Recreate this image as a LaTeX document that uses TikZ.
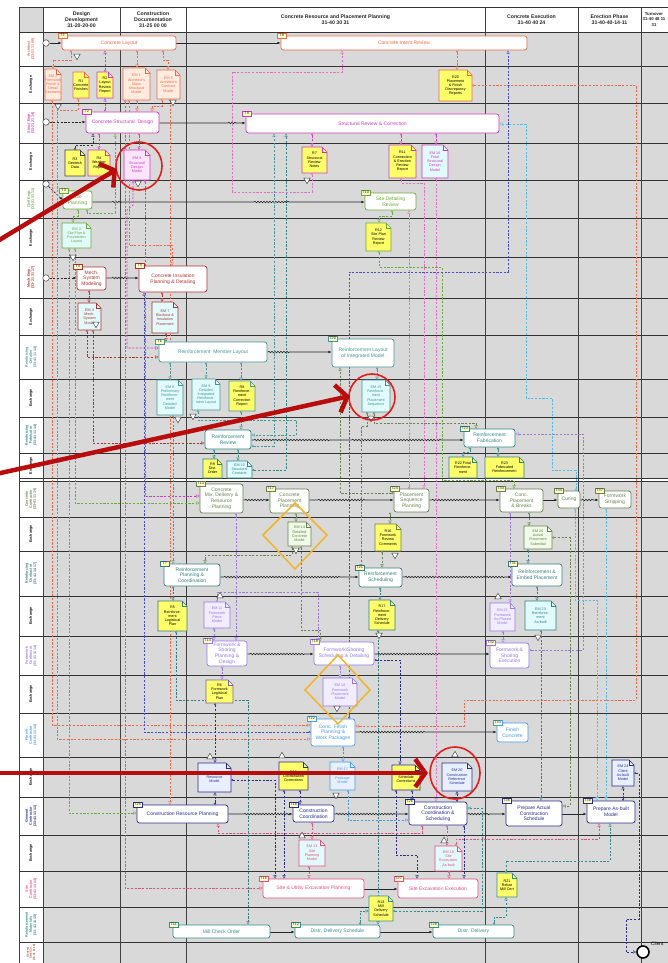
\documentclass[tikz,border=0pt]{standalone}
\usepackage{fontspec}
\setmainfont{Liberation Sans}
\usetikzlibrary{arrows.meta,calc,shapes.geometric,decorations.pathmorphing}
\pgfdeclarelayer{back}
\pgfdeclarelayer{mid}
\pgfsetlayers{back,mid,main}
\definecolor{arch}{RGB}{238,105,75}
\definecolor{archlt}{RGB}{255,236,222}
\definecolor{struct}{RGB}{205,60,190}
\definecolor{structpk}{RGB}{228,110,195}
\definecolor{structlt}{RGB}{252,228,250}
\definecolor{civil}{RGB}{105,170,60}
\definecolor{mech}{RGB}{175,50,50}
\definecolor{det}{RGB}{70,150,150}
\definecolor{fab}{RGB}{45,135,135}
\definecolor{conc}{RGB}{105,130,80}
\definecolor{rc}{RGB}{55,125,125}
\definecolor{form}{RGB}{150,120,230}
\definecolor{formlt}{RGB}{242,236,255}
\definecolor{finish}{RGB}{70,155,230}
\definecolor{blu}{RGB}{75,75,205}
\definecolor{gc}{RGB}{40,45,140}
\definecolor{gclt}{RGB}{232,240,255}
\definecolor{site}{RGB}{228,80,125}
\definecolor{mat}{RGB}{55,140,140}
\definecolor{cyanlt}{RGB}{225,250,252}
\definecolor{greenlt}{RGB}{240,250,232}
\definecolor{docyel}{RGB}{255,255,105}
\definecolor{tagyel}{RGB}{255,255,195}
\definecolor{bodygray}{RGB}{217,217,217}
\definecolor{annred}{RGB}{185,12,12}
\definecolor{circred}{RGB}{228,28,28}
\definecolor{diamyel}{RGB}{242,180,40}
\definecolor{cyanln}{RGB}{80,190,230}
\tikzset{
  taskbox/.style={draw=#1, text=#1, fill=white, rounded corners=2.5pt, line width=0.7pt, align=center, inner sep=0.5pt, font=\fontsize{5}{5.7}\selectfont},
  tagbox/.style={draw=#1, fill=tagyel, text=black!85, line width=0.4pt, inner sep=0.6pt, minimum width=9pt, minimum height=5.5pt, font=\fontsize{3.8}{4}\selectfont},
  doctext/.style={align=center, inner sep=0pt, font=\fontsize{3.7}{4.2}\selectfont},
  docbase/.style={line width=0.55pt},
  archEM/.style={docbase, draw=arch, fill=archlt}, archR/.style={docbase, draw=arch, fill=docyel},
  structR/.style={docbase, draw=struct, fill=docyel}, structEM/.style={docbase, draw=struct, fill=structlt},
  structEMc/.style={docbase, draw=struct, fill=cyanlt},
  blackR/.style={docbase, draw=black!75, fill=docyel},
  civilEM/.style={docbase, draw=civil, fill=cyanlt}, civilR/.style={docbase, draw=civil, fill=docyel},
  mechEM/.style={docbase, draw=mech, fill=cyanlt},
  detEM/.style={docbase, draw=det, fill=cyanlt}, detR/.style={docbase, draw=det, fill=docyel},
  fabEM/.style={docbase, draw=fab, fill=cyanlt}, fabR/.style={docbase, draw=fab, fill=docyel},
  concEM/.style={docbase, draw=conc, fill=greenlt}, concR/.style={docbase, draw=conc, fill=docyel},
  rcEM/.style={docbase, draw=rc, fill=cyanlt}, rcR/.style={docbase, draw=rc, fill=docyel},
  formEM/.style={docbase, draw=form, fill=formlt}, formR/.style={docbase, draw=form!80!black, fill=docyel},
  gcEM/.style={docbase, draw=gc, fill=gclt}, gcR/.style={docbase, draw=gc, fill=docyel},
  finishEM/.style={docbase, draw=finish, fill=gclt},
  siteEM/.style={docbase, draw=site, fill=cyanlt},
  matR/.style={docbase, draw=mat, fill=docyel},
  con/.style={draw=#1, line width=0.55pt, dash pattern=on 2.2pt off 1.5pt, {Circle[length=2.2pt,fill=white,line width=0.45pt]}-{Triangle[length=3.2pt,width=3.2pt,fill=white,line width=0.45pt]}},
  flow/.style={draw=black!85, line width=0.6pt, -{Latex[length=3.2pt,width=2.6pt]}},
  flowd/.style={flow, dash pattern=on 2.2pt off 1.5pt},
  wv/.style={decoration={snake,amplitude=0.8pt,segment length=3pt}},
  startc/.style={circle, draw=black!75, fill=white, line width=0.5pt, minimum size=6.5pt, inner sep=0pt},
  gatedn/.style={regular polygon, regular polygon sides=3, shape border rotate=180, draw=black!75, fill=white, line width=0.45pt, minimum size=7.5pt, inner sep=0pt},
  gateup/.style={regular polygon, regular polygon sides=3, draw=black!75, fill=white, line width=0.45pt, minimum size=7.5pt, inner sep=0pt},
  lanelbl/.style={rotate=90, align=center, inner sep=0pt, font=\fontsize{3.6}{4.1}\selectfont\bfseries},
  hdr/.style={align=center, inner sep=0pt, text=black!85, font=\fontsize{5.2}{6.3}\selectfont\bfseries},
  gridln/.style={draw=black!80, line width=0.7pt},
  colln/.style={draw=black!75, line width=0.9pt},
  redarrow/.style={draw=annred, line width=4.5pt, -{Straight Barb[length=10pt,width=28pt]}},
  redcirc/.style={draw=circred, line width=1.6pt},
  diam/.style={draw=diamyel, line width=1.5pt},
}
\newcommand{\tsk}[8]{%
  \node[taskbox=#6, minimum width={#4-#2}, minimum height={#5-#3}] (#1) at ({(#2+#4)/2},{(#3+#5)/2}) {#7};
  \node[tagbox=#6] (#1tag) at ($(#1.north west)+(1,0)$) {#8};
}
\newcommand{\docn}[8]{%
  \filldraw[#6] (#2,#3) -- ({#4-5},#3) -- (#4,{#3+5}) -- (#4,#5) -- (#2,#5) -- cycle;
  \draw[#6,fill=none] ({#4-5},#3) -- ({#4-5},{#3+5}) -- (#4,{#3+5});
  \node[doctext, text=#7, minimum width={#4-#2}, minimum height={#5-#3}] (#1) at ({(#2+#4)/2},{(#3+#5)/2}) {#8};
}
\begin{document}
\begin{tikzpicture}[x=1pt,y=-1pt]
\useasboundingbox (0,0) rectangle (667,963);
% ---------------- background grid
\begin{pgfonlayer}{back}
\fill[white] (0,0) rectangle (667,963);
\fill[bodygray] (43,32) rectangle (680,963);
\fill[bodygray] (19,7) rectangle (43,32);
\fill[white] (43,7) rectangle (680,32);
\fill[white] (19,32) rectangle (43,963);
\fill[white] (19,478) rectangle (680,481);
\foreach \yy in {7,32,66,103,143,180,218,257,298,335,379,417,453,478,481,517,551,596,636,675,713,757,797,835,871,907,942}
  \draw[gridln] (19,\yy) -- (680,\yy);
\foreach \xx in {19,43,120,186,485,578,641}
  \draw[colln] (\xx,7) -- (\xx,963);
\end{pgfonlayer}
% ---------------- header
\node[hdr] (h1) at (81.5,19.5) {Design\\Development\\31-20-20-00};
\node[hdr] (h2) at (153,19.5) {Construction\\Documentation\\31-25 00 00};
\node[hdr] (h3) at (335.5,19.5) {Concrete Resource and Placement Planning\\31-40 30 31};
\node[hdr] (h4) at (531.5,19.5) {Concrete Execution\\31-40 40 24};
\node[hdr] (h5) at (609.5,19.5) {Erection Phase\\31-40-40-14-11};
\node[hdr, font=\fontsize{4.3}{5.6}\selectfont\bfseries] (h6) at (654,19.5) {Turnover\\31-40 48 11\\31};
% ---------------- lane labels
\node[lanelbl, text=arch] (l1) at (31,49) {Architect\\(33-21 11 00)};
\node[lanelbl] (l2) at (31,84.5) {Exchange};
\node[lanelbl, text=struct] (l3) at (31,123) {Struct Engr.\\(33-21 31 14)};
\node[lanelbl] (l4) at (31,161.5) {Exchange};
\node[lanelbl, text=civil] (l5) at (31,199) {Civil Engr.\\(33-21 31 11)};
\node[lanelbl] (l6) at (31,237.5) {Exchange};
\node[lanelbl, text=mech] (l7) at (31,277.5) {Mech Engr.\\(33-21 31 17)};
\node[lanelbl] (l8) at (31,316.5) {Exchange};
\node[lanelbl, text=det] (l9) at (31,357) {Reinforcing\\Detailer\\(33-41 11 14)};
\node[lanelbl] (l10) at (31,398) {Exchange};
\node[lanelbl, text=fab] (l11) at (31,435) {Reinforcing\\Fabricator\\(33-41 11 14)};
\node[lanelbl] (l12) at (31,465.5) {Exchange};
\node[lanelbl, text=conc] (l13) at (31,499) {Concrete\\Contractor\\(33-41 11 14)};
\node[lanelbl] (l14) at (31,534) {Exchange};
\node[lanelbl, text=rc] (l15) at (31,573.5) {Reinforcing\\Contractor\\(33-41 14 17)};
\node[lanelbl] (l16) at (31,616) {Exchange};
\node[lanelbl, text=form] (l17) at (31,655.5) {Formwork\\Contractor\\(33-41 11 14)};
\node[lanelbl] (l18) at (31,694) {Exchange};
\node[lanelbl, text=finish] (l19) at (31,735) {Finish\\Contractor\\(33-41 11 14)};
\node[lanelbl] (l20) at (31,777) {Exchange};
\node[lanelbl, text=gc] (l21) at (31,816) {General\\Contractor\\(33-41 11 11)};
\node[lanelbl] (l22) at (31,853) {Exchange};
\node[lanelbl, text=site] (l23) at (31,889) {Site\\Contractor\\(33-41 11 14)};
\node[lanelbl, text=mat] (l24) at (31,924.5) {Reinforcement\\Materials\\(33-41 11 15)};
\node[lanelbl, text=mech, font=\fontsize{2.7}{3.1}\selectfont\bfseries] (l25) at (31,952.5) {General\\Steel Co.\\(33-41 11 16)};
% ---------------- start / end events
\node[startc] (s1) at (46,43) {};
\node[startc] (s2) at (46,122) {};
\node[startc] (s3) at (46,184) {};
\node[startc] (s4) at (46,278) {};
\node[circle, draw=black, fill=white, line width=1.6pt, minimum size=12pt, inner sep=0pt] (client) at (643,952) {};
\node[anchor=west, inner sep=0pt, font=\fontsize{4.8}{6}\selectfont] (clientlbl) at (651,944) {Client};
% ---------------- tasks
\tsk{t1}{62}{36}{176}{50}{arch}{Concrete Layout}{T1}
\tsk{t8}{281}{36}{527}{50}{arch}{Concrete Intent Review}{T8}
\tsk{t2}{86}{112}{159}{133}{struct}{Concrete Structural\ \ Design}{T2}
\tsk{t9}{246}{114}{499}{133}{struct}{Structural Review \& Correction}{T9}
\tsk{t3}{63}{191}{92}{209}{civil}{Site\\Planning}{T3}
\tsk{t10}{365}{193}{416}{210}{civil}{Site Detailing\\Review}{T10}
\tsk{t4}{77}{267}{106}{290}{mech}{Mech.\\System\\Modeling}{T4}
\tsk{t5}{139}{266}{207}{292}{mech}{Concrete Insulation\\Planning \& Detailing}{T5}
\tsk{t6}{159}{342}{267}{362}{det}{Reinforcement\ \ Member Layout}{T6}
\tsk{t20}{332}{339}{394}{367}{det}{Reinforcement Layout\\of Integrated Model}{T20}
\node[taskbox=fab, minimum width=46, minimum height=19] (trr) at (228,439.5) {Reinforcement\\Review};
\tsk{t23}{464}{429}{515}{447}{fab}{Reinforcement\\Fabrication}{T23}
\tsk{t13}{200}{484}{243}{513}{conc}{Concrete\\Mix, Delivery \&\\Resource\\Planning}{T13}
\tsk{t17}{270}{489}{309}{513}{conc}{Concrete\\Placement\\Planning}{T17}
\tsk{t24}{394}{489}{429}{512}{conc}{Placement\\Sequence\\Planning}{T24}
\tsk{t30}{500}{489}{543}{512}{conc}{Conc.\\Placement\\\& Breaks}{T30}
\tsk{t34c}{558}{491}{580}{508}{conc}{Curing}{T34}
\tsk{t37}{599}{491}{631}{508}{conc}{Formwork\\Stripping}{T37}
\tsk{t7}{164}{564}{220}{586}{rc}{Reinforcement\\Planning \&\\Coordination}{T7}
\tsk{t21}{359}{568}{402}{587}{rc}{Reinforcement\\Scheduling}{T21}
\tsk{t31}{512}{564}{562}{586}{rc}{Reinforcement \&\\Embed Placement}{T31}
\tsk{t14}{207}{641}{247}{666}{form}{Formwork \&\\Shoring\\Planning \&\\Design}{T14}
\tsk{t19}{314}{642}{374}{665}{form}{Formwork/Shoring\\Scheduling \& Detailing}{T19}
\tsk{t32}{490}{643}{529}{668}{form}{Formwork \&\\Shoring\\Execution}{T32}
\tsk{t22}{311}{719}{355}{746}{finish}{Conc. Finish\\Planning \&\\Work Packages}{T22}
\tsk{t33}{497}{723}{528}{742}{finish}{Finish\\Concrete}{T33}
\tsk{t25}{137}{805}{228}{823}{gc}{Construction Resource Planning}{T25}
\tsk{t18}{293}{805}{334}{822}{gc}{Construction\\Coordination}{T18}
\tsk{t26}{409}{802}{467}{825}{gc}{Construction\\Coordination \&\\Scheduling}{T26}
\tsk{t36}{506}{801}{562}{826}{gc}{Prepare Actual\\Construction\\Schedule}{T36}
\tsk{t38}{587}{801}{635}{823}{gc}{Prepare As-built\\Model}{T38}
\tsk{t15}{263}{879}{364}{898}{site}{Site \& Utility Excavation Planning}{T15}
\tsk{t27}{398}{879}{478}{898}{site}{Site Excavation Execution}{T27}
\tsk{t11}{173}{925}{270}{938}{mat}{Mill Check Order}{T11}
\tsk{t12}{295}{925}{380}{938}{mat}{Distr. Delivery Schedule}{T12}
\tsk{t28}{433}{925}{514}{938}{mat}{Distr. Delivery}{T28}
% ---------------- documents
\docn{em2}{45}{69}{61}{100}{archEM}{arch}{EM 2\\Formwork\\Finish \&\\Detail\\Geometry}
\docn{r1}{73}{72}{89}{98}{archR}{black}{R1\\Concrete\\Finishes}
\docn{r2}{97}{72}{113}{98}{structR}{black}{R2\\Layout\\Review\\Report}
\docn{em1}{123}{68}{150}{100}{archEM}{arch}{EM 1\\Architect's\\Mass\\Structural\\Model}
\docn{em5}{157}{70}{180}{99}{archEM}{arch}{EM 5\\Architect's\\Contract\\Model}
\docn{r20}{439}{70}{472}{101}{archR}{black}{R20\\Placement\\\& Finish\\Discrepancy\\Reports}
\docn{r3}{65}{150}{85}{176}{blackR}{black}{R3\\Geotech\\Data}
\docn{r4}{88}{150}{110}{176}{structR}{black}{R4\\Weather\\Report}
\docn{em8}{124}{150}{150}{180}{structEM}{struct}{EM 8\\Structural\\Design\\Model}
\docn{r7}{302}{147}{327}{173}{structR}{black}{R7\\Structural\\Review\\Notes}
\docn{r11}{389}{145}{416}{178}{structR}{black}{R11\\Connection\\\& Erection\\Review\\Report}
\docn{em16}{422}{145}{448}{178}{structEMc}{struct}{EM 16\\Final\\Structural\\Design\\Model}
\docn{em3}{62}{223}{91}{248}{civilEM}{civil}{EM 3\\Site Plan \&\\Foundation\\Layout}
\docn{r12}{366}{223}{391}{251}{civilR}{black}{R12\\Site Plan\\Review\\Report}
\docn{em4}{78}{303}{101}{330}{mechEM}{mech}{EM 4\\Mech.\\System\\Model}
\docn{em7}{152}{302}{178}{333}{mechEM}{mech}{EM 7\\Blockout \&\\Insulation\\Placement}
\docn{em6}{157}{380}{183}{415}{detEM}{det}{EM 6\\Preliminary\\Reinforce-\\ment\\Detailed\\Model}
\docn{em9}{192}{379}{220}{410}{detEM}{det}{EM 9\\Detailed\\Integrated\\Reinforce-\\ment Layout}
\docn{r8}{229}{381}{255}{411}{detR}{black}{R8\\Reinforce-\\ment\\Correction\\Report}
\docn{em15}{362}{380}{390}{412}{detEM}{det}{EM 15\\Reinforce-\\ment\\Placement\\Sequence}
\docn{r9}{203}{459}{222}{478}{fabR}{black}{R9\\Dist.\\Order}
\docn{em10}{227}{461}{252}{478}{fabEM}{fab}{EM 10\\Structural\\Contacts}
\docn{r22}{449}{457}{477}{478}{fabR}{black}{R22 Final\\Reinforce-\\ment}
\docn{r23}{485}{457}{524}{478}{fabR}{black}{R23\\Fabricated\\Reinforcement}
\docn{em14}{288}{522}{311}{546}{concEM}{conc}{EM 14\\Detailed\\Concrete\\Model}
\docn{r16}{375}{524}{401}{551}{concR}{black}{R16\\Formwork\\Review\\Comments}
\docn{em26}{524}{526}{552}{549}{concEM}{conc}{EM 26\\Actual\\Placement\\Submittal}
\docn{r5}{158}{601}{187}{631}{rcR}{black}{R5\\Reinforce-\\ment\\Logistical\\Plan}
\docn{em11}{204}{602}{230}{628}{formEM}{form}{EM 11\\Formwork\\Piece\\Model}
\docn{r17}{369}{600}{395}{630}{rcR}{black}{R17\\Reinforce-\\ment\\Delivery\\Schedule}
\docn{em21}{490}{603}{515}{631}{formEM}{form}{EM 21\\Formwork\\As-Placed\\Model}
\docn{em23}{525}{601}{556}{630}{rcEM}{rc}{EM 23\\Reinforce-\\ment\\As-built}
\docn{r6}{206}{680}{233}{703}{formR}{black}{R6\\Formwork\\Logistical\\Plan}
\docn{em18}{323}{678}{357}{706}{formEM}{form}{EM 18\\Formwork\\Placement\\Model}
\docn{em12}{198}{763}{231}{792}{gcEM}{gc}{EM 12\\Resource\\Model}
\docn{r18}{279}{762}{308}{790}{gcR}{black}{R18\\Coordination\\Corrections}
\docn{em17}{330}{762}{355}{790}{finishEM}{finish}{EM 17\\Finish\\Package\\Model}
\docn{r19}{392}{765}{420}{790}{gcR}{black}{R19\\Schedule\\Corrections}
\docn{em20}{442}{763}{472}{791}{gcEM}{gc}{EM 20\\Construction\\Reference\\Schedule}
\docn{em24}{612}{760}{634}{786}{gcEM}{gc}{EM 24\\Client\\As-built\\Model}
\docn{em13}{299}{840}{325}{866}{siteEM}{site}{EM 13\\Site\\Planning\\Model}
\docn{em19}{435}{846}{462}{871}{siteEM}{site}{EM 19\\Site\\Excavation\\As-built}
\docn{r13}{369}{896}{393}{921}{matR}{black}{R13\\Mill\\Delivery\\Schedule}
\docn{r21}{497}{873}{517}{897}{matR}{black}{R21\\Rebar\\Mill Cert}
% ---------------- gateway markers
\node[gatedn] (ga1) at (77,56) {};
\node[gatedn] (ga2) at (58,106) {};
\node[gatedn] (ga3) at (173,102) {};
\node[gatedn] (ga4) at (138,183) {};
\node[gatedn] (ga5) at (307,180) {};
\node[gatedn] (ga6) at (73,257) {};
\node[gatedn] (ga7) at (96,324) {};
\node[gatedn] (ga8) at (178,419) {};
\node[gatedn] (ga9) at (193,416) {};
\node[gatedn] (ga10) at (371,418) {};
\node[gatedn] (ga11) at (296,550) {};
\node[gatedn] (ga12) at (395,555) {};
\node[gateup] (ga13) at (498,597) {};
\node[gatedn] (ga14) at (379,635) {};
\node[gatedn] (ga15) at (538,637) {};
\node[gateup] (ga16) at (220,596) {};
\node[gateup] (ga17) at (210,757) {};
\node[gateup] (ga18) at (282,756) {};
\node[gatedn] (ga19) at (337,708) {};
\node[gateup] (ga20) at (455,755) {};
\node[gatedn] (ga21) at (336,795) {};
\node[gateup] (ga22) at (302,836) {};
\node[gateup] (ga23) at (444,841) {};
% ---------------- connectors (under the nodes)
\begin{pgfonlayer}{mid}
% solid sequence flows
\draw[flow] (s1) -- (t1.west |- s1);
\draw[flow] (t1.east |- 0,43) -- (t8.west |- 0,43);
\draw[flowd] (s2) -- (t2.west |- s2);
\draw[flow] (t2.east |- 0,123) -- (228,123) decorate[wv]{-- (236,123)} -- (t9.west |- 0,123);
\draw[flowd] (s3) -- (t3.west);
\draw[flow] (t3.east |- 0,202) -- (112,202) decorate[wv]{-- (122,202)} -- (254,202) decorate[wv]{-- (290,202)} -- (t10.west |- 0,202);
\draw[flowd] (s4) -- (t4.west |- s4);
\draw[flow] (t4.east |- 0,278) -- (112,278) decorate[wv]{-- (128,278)} -- (t5.west |- 0,278);
\draw[flow] (t6.east |- 0,352) -- (268,352) decorate[wv]{-- (290,352)} -- (t20.west |- 0,352);
\draw[flow] (trr.east |- 0,440) -- (254,440) decorate[wv]{-- (330,440)} -- (352,440) decorate[wv]{-- (442,440)} -- (t23.west |- 0,440);
\draw[flow] (t13.east |- 0,500) -- (245,500) decorate[wv]{-- (266,500)} -- (t17.west |- 0,500);
\draw[flow] (t17.east |- 0,500) -- (318,500) decorate[wv]{-- (365,500)} -- (t24.west |- 0,500);
\draw[flow] (t24.east |- 0,500) -- (432,500) decorate[wv]{-- (480,500)} -- (t30.west |- 0,500);
\draw[flow] (t30.east |- 0,500) -- (t34c.west |- 0,500);
\draw[flow] (t34c.east |- 0,500) -- (582,500) decorate[wv]{-- (594,500)} -- (t37.west |- 0,500);
\draw[flow] (t7.east |- 0,577) -- (224,577) decorate[wv]{-- (340,577)} -- (t21.west |- 0,577);
\draw[flow] (t21.east |- 0,577) -- (405,577) decorate[wv]{-- (505,577)} -- (t31.west |- 0,577);
\draw[flow] (t14.east |- 0,654) -- (250,654) decorate[wv]{-- (305,654)} -- (t19.west |- 0,654);
\draw[flow] (t19.east |- 0,654) -- (378,654) decorate[wv]{-- (440,654)} -- (t32.west |- 0,654);
\draw[flow] (t22.east |- 0,732) -- (360,732) decorate[wv]{-- (425,732)} -- (t33.west |- 0,732);
\draw[flow] (t25.east |- 0,814) -- (244,814) decorate[wv]{-- (290,814)} -- (t18.west |- 0,814);
\draw[flow] (t18.east |- 0,814) -- (336,814) decorate[wv]{-- (395,814)} -- (t26.west |- 0,814);
\draw[flow] (t26.east |- 0,814) -- (468,814) decorate[wv]{-- (490,814)} -- (t36.west |- 0,814);
\draw[flow] (t36.east |- 0,814) -- (t38.west |- 0,814);
\draw[flow] (t15.east |- 0,889) -- (t27.west |- 0,889);
\draw[flow] (t11.east |- 0,932) -- (t12.west |- 0,932);
\draw[flow] (t12.east |- 0,932) -- (t28.west |- 0,932);
% architect
\draw[con=arch] (t1.south -| 71,0) -- (71,60) -- (53,60) -- (em2.north -| 53,0);
\draw[con=arch] (t1.south -| 137,0) -- (em1.north -| 137,0);
\draw[con=arch] (t1.south -| 163,0) -- (163,60) -- (168,60) -- (em5.north -| 168,0);
\draw[con=arch] (em2.south -| 52,0) -- (52,725) -- (t22.west |- 0,725);
\draw[con=arch] (r1.south -| 78,0) -- (78,110) -- (57,110) -- (57,739) -- (t22.west |- 0,739);
\draw[con=arch] (em1.south -| 137,0) -- (t2.north -| 137,0);
\draw[con=arch] (em5.south -| 162,0) -- (162,106) -- (152,106) -- (t2.north -| 152,0);
\draw[con=arch] (em5.south -| 170,0) -- (t25.north -| 170,0);
\draw[con=arch] (t8.south -| 457,0) -- (r20.north -| 457,0);
\draw[con=arch] (r20.east) -- (r20.east -| 636,0) -- (636,700) -- (464,700) -- (464,726) -- (t22.east |- 0,726);
\draw[con=arch] (em1.south -| 129,0) -- (129,245) -- (172,245) -- (t5.north -| 172,0);
% structural
\draw[con=struct] (t2.north -| 105,0) -- (r2.south -| 105,0);
\draw[con=struct] (r2.north -| 105,0) -- (t1.south -| 105,0);
\draw[con=struct] (t2.south -| 99,0) -- (r4.north -| 99,0);
\draw[con=struct] (t2.south -| 139,0) -- (em8.north -| 139,0);
\draw[con=struct] (em8.south -| 133,0) -- (133,205) -- (127,210) -- (127,348) -- (t6.west |- 0,348);
\draw[con=struct] (em8.south -| 145,0) -- (145,496) -- (t13.west |- 0,496);
\draw[con=structpk] (r7.south -| 312,0) -- (312,192) -- (232,192) -- (232,72) -- (342,72) -- (t8.south -| 342,0);
\draw[con=struct] (t9.south -| 312,0) -- (r7.north -| 312,0);
\draw[con=struct] (t9.south -| 401,0) -- (r11.north -| 401,0);
\draw[con=struct] (t9.south -| 436,0) -- (em16.north -| 436,0);
\draw[con=structpk] (r11.south -| 401,0) -- (401,183) -- (424,183) -- (t24.north -| 424,0);
\draw[con=structpk] (em16.south -| 436,0) -- (t26.north -| 436,0);
\draw[con=structpk] (t24.north -| 409,0) -- (t10.south -| 409,0);
\draw[con=black!80] (r3.north -| 75,0) -- (75,145) -- (93,145) -- (t2.south -| 93,0);
% civil
\draw[con=civil] (t3.south -| 78,0) -- (78,216) -- (73,216) -- (em3.north -| 73,0);
\draw[con=civil] (t3.south -| 87,0) -- (87,213) -- (115,213) -- (t2.south -| 115,0);
\draw[con=civil] (em3.south -| 69,0) -- (69,813) -- (t25.west |- 0,813);
\draw[con=civil] (em3.south -| 75,0) -- (75,503) -- (t13.west |- 0,503);
\draw[con=civil] (t10.south -| 392,0) -- (392,216) -- (379,216) -- (r12.north -| 379,0);
\draw[con=civil] (r12.south -| 379,0) -- (379,267) -- (442,267) -- (442,480) -- (514,480) -- (t30.north -| 514,0);
\draw[con=conc] (t24.west |- 0,493) -- (340,493) -- (t20.south -| 340,0);
% mechanical
\draw[con=mech] (t4.south -| 89,0) -- (em4.north -| 89,0);
\draw[con=mech] (t5.south -| 162,0) -- (em7.north -| 162,0);
\draw[con=mech] (em4.south -| 87,0) -- (87,357) -- (t6.west |- 0,357);
\draw[con=mech] (em4.south -| 93,0) -- (93,443) -- (trr.west |- 0,443);
\draw[con=mech] (em7.south -| 166,0) -- (t6.north -| 166,0);
\draw[con=blu] (t22.west |- 0,732) -- (144,732) -- (t5.south -| 144,0);
% detailer / fabricator
\draw[con=det] (t6.south -| 170,0) -- (em6.north -| 170,0);
\draw[con=det] (t6.south -| 206,0) -- (em9.north -| 206,0);
\draw[con=det] (t6.south -| 241,0) -- (r8.north -| 241,0);
\draw[con=det] (t20.south -| 377,0) -- (em15.north -| 377,0);
\draw[con=det] (em6.south -| 173,0) -- (t7.north -| 173,0);
\draw[con=det] (em9.south -| 198,0) -- (198,420) -- (296,420) -- (296,435) -- (trr.east |- 0,435);
\draw[con=det] (r8.south -| 241,0) -- (trr.north -| 241,0);
\draw[con=det] (trr.east |- 0,446) -- (274,446) -- (t9.south -| 274,0);
\draw[con=fab] (em10.east |- 0,470) -- (286,470) -- (t9.south -| 286,0);
\draw[con=conc] (em15.south -| 374,0) -- (374,423) -- (476,423) -- (t23.north -| 476,0);
\draw[con=conc] (em15.south -| 367,0) -- (367,426) -- (361,426) -- (t21.north -| 361,0);
\draw[con=fab] (trr.south -| 214,0) -- (r9.north -| 214,0);
\draw[con=fab] (trr.south -| 238,0) -- (em10.north -| 238,0);
\draw[con=fab] (t23.south -| 470,0) -- (470,452) -- (463,452) -- (r22.north -| 463,0);
\draw[con=fab] (t23.south -| 498,0) -- (r23.north -| 498,0);
\draw[con=form] (t32.east |- 0,650) -- (583,650) -- (583,434) -- (t23.east |- 0,434);
\draw[con=cyanln] (t34c.north -| 576,0) -- (576,470) -- (552,470) -- (552,398) -- (526,398) -- (526,124) -- (t9.east |- 0,124);
\draw[con=cyanln] (t37.south -| 606,0) -- (t38.north -| 606,0);
\draw[con=cyanln] (t34c.south -| 575,0) -- (575,600) -- (597,600) -- (t38.north -| 597,0);
% concrete
\draw[con=conc] (t17.south -| 296,0) -- (em14.north -| 296,0);
\draw[con=conc] (em14.south -| 301,0) -- (301,630) -- (320,630) -- (t19.north -| 320,0);
\draw[con=conc] (em14.south -| 292,0) -- (292,555) -- (205,555) -- (t7.north -| 205,0);
\draw[con=conc] (t24.south -| 390,0) -- (r16.north -| 390,0);
\draw[con=conc] (t30.south -| 529,0) -- (em26.north -| 529,0);
\draw[con=conc] (em26.east) -- (em26.east -| 570,0) -- (570,806) -- (t36.east |- 0,806);
\draw[con=conc] (r16.south -| 382,0) -- (t21.north -| 382,0);
% reinforcing contractor
\draw[con=rc] (t7.south -| 173,0) -- (r5.north -| 173,0);
\draw[con=rc] (t21.south -| 380,0) -- (r17.north -| 380,0);
\draw[con=rc] (t31.south -| 537,0) -- (em23.north -| 537,0);
\draw[con=rc] (em26.south -| 528,0) -- (t31.north -| 528,0);
\draw[con=rc] (r17.south -| 378,0) -- (t12.north -| 378,0);
\draw[con=rc] (r5.south -| 176,0) -- (176,700) -- (248,700) -- (t11.north -| 248,0);
\draw[con=rc] (em23.south -| 541,0) -- (t36.north -| 541,0);
% formwork
\draw[con=form] (t13.south -| 236,0) -- (t14.north -| 236,0);
\draw[con=form] (t14.south -| 222,0) -- (r6.north -| 222,0);
\draw[con=form] (t19.south -| 340,0) -- (em18.north -| 340,0);
\draw[con=form] (em21.south -| 503,0) -- (t32.north -| 503,0);
\draw[con=form] (t30.south -| 510,0) -- (em21.north -| 510,0);
\draw[con=form] (em11.north -| 217,0) -- (217,592) -- (318,592) -- (t19.north -| 318,0);
\draw[con=form] (em11.south -| 214,0) -- (t14.north -| 214,0);
% finish
\draw[con=finish] (t22.south -| 343,0) -- (em17.north -| 343,0);
\draw[con=blu] (t22.north -| 349,0) -- (349,272) -- (508,272) -- (t8.south -| 508,0);
\draw[con=finish] (em17.south -| 348,0) -- (348,820) -- (t26.west |- 0,820);
% general contractor
\draw[con=gc] (t25.north -| 215,0) -- (em12.south -| 215,0);
\draw[con=gc] (r6.south -| 215,0) -- (em12.north -| 215,0);
\draw[con=gc] (r18.south -| 300,0) -- (t18.north -| 300,0);
\draw[con=gc] (t26.north -| 457,0) -- (em20.south -| 457,0);
\draw[con=gc] (r19.south -| 412,0) -- (t26.north -| 412,0);
\draw[con=gc] (t19.east |- 0,660) -- (400,660) -- (r19.north -| 400,0);
\draw[con=gc] (r18.south -| 284,0) -- (t15.north -| 284,0);
\draw[con=gc] (em12.east |- 0,780) -- (275,780) -- (t15.north -| 275,0);
\draw[con=gc] (r19.south -| 396,0) -- (396,855) -- (417,855) -- (t27.north -| 417,0);
\draw[con=gc] (t26.south -| 464,0) -- (t27.north -| 464,0);
\draw[con=gc] (t38.north -| 623,0) -- (em24.south -| 623,0);
\draw[con=gc] (em24.east) -- (em24.east -| 639,0) -- (639,919) -- (626,919) -- (626,952) -- (client.west);
% site
\draw[con=site] (t18.south -| 312,0) -- (em13.north -| 312,0);
\draw[con=site] (em13.south -| 309,0) -- (t15.north -| 309,0);
\draw[con=site] (t26.south -| 447,0) -- (em19.north -| 447,0);
\draw[con=site] (em19.south -| 449,0) -- (t27.north -| 449,0);
\draw[con=site] (t26.south -| 422,0) -- (422,833) -- (218,833) -- (t25.south -| 218,0);
\draw[con=site] (em19.north -| 456,0) -- (456,839) -- (599,839) -- (t38.south -| 599,0);
\draw[con=site] (em1.south -| 125,0) -- (125,888) -- (t15.west |- 0,888);
% materials
\draw[con=mat] (r21.north -| 506,0) -- (506,861) -- (610,861) -- (t38.south -| 610,0);
\draw[con=mat] (t28.north -| 494,0) -- (494,917) -- (506,917) -- (r21.south -| 506,0);
\draw[con=mat] (t12.north -| 360,0) -- (360,911) -- (r13.west |- 0,911);
\draw[con=mat] (r13.east |- 0,911) -- (482,911) -- (482,808) -- (t26.east |- 0,808);
\end{pgfonlayer}
% ---------------- highlight diamonds
\draw[diam] (263,535) -- (295,503) -- (327,535) -- (295,569) -- cycle;
\draw[diam] (305,690) -- (338,655) -- (370,690) -- (338,724) -- cycle;
% ---------------- red annotations
\draw[redcirc] (139,166) ellipse [x radius=23pt, y radius=24pt];
\draw[redcirc] (372,397) ellipse [x radius=23pt, y radius=23pt];
\draw[redcirc] (455,773) ellipse [x radius=25pt, y radius=26pt];
\draw[redarrow] (-4,242) -- (117,169);
\draw[redarrow] (-4,474) -- (350,396);
\draw[redarrow] (-4,773) -- (428,773);
\end{tikzpicture}
\end{document}
